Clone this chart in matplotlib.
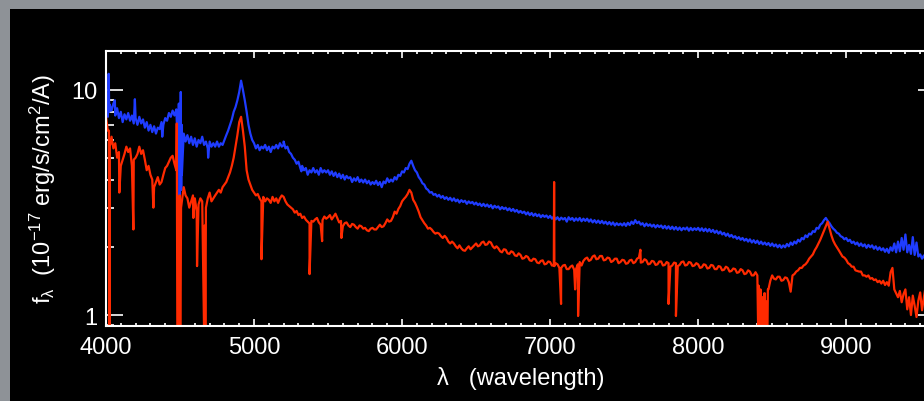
import numpy as np
import matplotlib
matplotlib.use("Agg")
import matplotlib.pyplot as plt
from matplotlib.patches import Rectangle
from matplotlib.ticker import MultipleLocator, LogLocator, FuncFormatter, NullFormatter

plt.rcParams['font.family'] = ['Liberation Sans', 'DejaVu Sans']
plt.rcParams['mathtext.fontset'] = 'custom'
plt.rcParams['mathtext.rm'] = 'Liberation Sans'
plt.rcParams['mathtext.it'] = 'Liberation Sans'
plt.rcParams['mathtext.default'] = 'regular'

# sampling grid of the spectra (Angstrom), 12.5 A steps
wave = np.arange(4000, 9600.1, 12.5)

# blue spectrum, flux in 1e-17 erg/s/cm2/A, one row per 250 A
blue_flux = [
    9.6, 7.6, 8.6, 8.1, 8.7, 7.7, 8.3, 7.5, 8.0, 7.2, 7.8, 7.4, 7.9, 7.3, 7.7, 7.1, 7.5, 7.0, 7.6, 7.1,
    7.4, 6.8, 7.2, 6.6, 7.0, 6.5, 6.9, 6.4, 6.8, 6.7, 7.2, 7.0, 7.5, 7.3, 7.9, 7.6, 8.1, 7.7, 8.2, 5.0,
    3.5, 4.2, 6.4, 5.9, 6.3, 5.8, 6.2, 5.7, 6.1, 5.6, 6.0, 5.8, 6.2, 5.7, 5.9, 5.5, 5.9, 5.6, 5.8, 5.6,
    5.9, 5.6, 5.8, 5.7, 6.0, 6.3, 6.6, 7.0, 7.4, 8.0, 8.4, 9.0, 9.8, 11.0, 10.0, 9.0, 8.0, 7.0, 6.4, 6.0,
    5.8, 5.5, 5.7, 5.4, 5.6, 5.5, 5.7, 5.4, 5.6, 5.3, 5.6, 5.5, 5.7, 5.5, 5.8, 5.6, 5.7, 5.5, 5.6, 5.3,
    5.2, 5.0, 4.9, 4.7, 4.8, 4.5, 4.6, 4.4, 4.5, 4.2, 4.4, 4.3, 4.5, 4.3, 4.4, 4.2, 4.5, 4.3, 4.4, 4.3,
    4.4, 4.2, 4.35, 4.15, 4.3, 4.1, 4.25, 4.05, 4.2, 4.0, 4.15, 4.05, 4.1, 3.9, 4.05, 3.95, 4.1, 3.9, 4.0, 3.88,
    4.0, 3.85, 3.95, 3.8, 3.9, 3.82, 3.95, 3.78, 3.9, 3.7, 3.92, 3.85, 4.05, 3.9, 4.0, 3.92, 4.1, 4.0, 4.2, 4.15,
    4.35, 4.3, 4.5, 4.45, 4.7, 4.85, 4.6, 4.4, 4.3, 4.1, 4.0, 3.85, 3.8, 3.65, 3.6, 3.5, 3.52, 3.42, 3.45, 3.36,
    3.42, 3.32, 3.38, 3.28, 3.34, 3.25, 3.32, 3.22, 3.3, 3.2, 3.26, 3.16, 3.24, 3.18, 3.22, 3.12, 3.2, 3.14, 3.18, 3.1,
    3.16, 3.08, 3.13, 3.05, 3.12, 3.04, 3.1, 3.02, 3.08, 2.98, 3.06, 3.0, 3.04, 2.95, 3.02, 2.96, 3.0, 2.92, 2.98, 2.9,
    2.96, 2.88, 2.93, 2.85, 2.9, 2.84, 2.88, 2.8, 2.86, 2.78, 2.84, 2.76, 2.82, 2.75, 2.8, 2.72, 2.78, 2.73, 2.77, 2.7,
    2.76, 2.68, 2.74, 2.66, 2.72, 2.64, 2.71, 2.66, 2.7, 2.6, 2.72, 2.65, 2.7, 2.62, 2.69, 2.63, 2.7, 2.61, 2.68, 2.62,
    2.68, 2.6, 2.66, 2.58, 2.64, 2.57, 2.63, 2.56, 2.62, 2.55, 2.6, 2.53, 2.59, 2.52, 2.58, 2.5, 2.56, 2.51, 2.55, 2.5,
    2.56, 2.49, 2.57, 2.51, 2.6, 2.54, 2.64, 2.56, 2.6, 2.52, 2.56, 2.48, 2.55, 2.49, 2.53, 2.47, 2.52, 2.45, 2.51, 2.46,
    2.5, 2.43, 2.49, 2.42, 2.48, 2.41, 2.47, 2.4, 2.46, 2.39, 2.45, 2.38, 2.44, 2.4, 2.45, 2.37, 2.44, 2.38, 2.43, 2.39,
    2.44, 2.37, 2.43, 2.36, 2.42, 2.35, 2.41, 2.34, 2.39, 2.32, 2.37, 2.3, 2.35, 2.28, 2.32, 2.25, 2.3, 2.23, 2.27, 2.21,
    2.24, 2.18, 2.22, 2.16, 2.2, 2.14, 2.18, 2.12, 2.17, 2.1, 2.15, 2.09, 2.14, 2.07, 2.12, 2.06, 2.1, 2.05, 2.09, 2.03,
    2.08, 2.02, 2.06, 2.0, 2.05, 1.99, 2.04, 2.0, 2.07, 2.02, 2.1, 2.05, 2.12, 2.08, 2.16, 2.12, 2.2, 2.17, 2.26, 2.22,
    2.3, 2.28, 2.36, 2.34, 2.44, 2.42, 2.52, 2.56, 2.64, 2.7, 2.62, 2.56, 2.48, 2.42, 2.38, 2.32, 2.3, 2.24, 2.22, 2.17,
    2.2, 2.13, 2.16, 2.09, 2.12, 2.06, 2.1, 2.03, 2.08, 2.02, 2.06, 1.99, 2.05, 2.0, 2.04, 1.97, 2.02, 1.95, 2.0, 1.94,
    1.98, 1.91, 1.97, 1.89, 2.0, 1.93, 2.08, 1.9, 2.12, 1.92, 2.2, 1.95, 2.28, 1.9, 2.05, 1.87, 2.22, 1.85, 2.1, 1.82,
    1.86, 1.78, 1.84, 1.75, 1.82, 1.74, 1.8, 1.76, 1.79,
]

# narrow features of the blue spectrum (spikes and lines between grid points)
blue_line_wave = [4018, 4022, 4060, 4195, 4380, 4492, 4495, 4505, 4508, 4512, 4690, 5200, 5320]
blue_line_flux = [11.8, 8.0, 9.0, 9.1, 6.2, 8.7, 3.4, 9.8, 3.6, 7.0, 5.0, 5.9, 4.35]

# red spectrum
red_flux = [
    7.6, 6.6, 5.9, 6.2, 5.5, 5.8, 5.0, 5.3, 4.6, 4.9, 5.2, 5.6, 5.3, 5.5, 4.6, 4.9, 5.0, 5.2, 5.6, 5.2,
    5.4, 4.9, 4.4, 4.6, 4.2, 4.0, 3.7, 3.9, 4.1, 3.8, 3.9, 4.2, 4.5, 4.6, 4.8, 5.0, 5.1, 4.7, 4.4, 0.85,
    0.85, 3.2, 3.7, 3.4, 3.3, 3.0, 3.2, 3.4, 3.3, 2.9, 3.1, 3.3, 3.2, 0.85, 3.0, 3.3, 3.5, 3.2, 3.3, 3.4,
    3.5, 3.6, 3.5, 3.7, 3.8, 3.9, 4.1, 4.3, 4.6, 5.0, 5.6, 6.3, 7.2, 7.6, 6.6, 5.6, 4.4, 4.0, 3.8, 3.6,
    3.5, 3.4, 3.45, 3.3, 3.2, 3.35, 3.2, 3.3, 3.25, 3.15, 3.35, 3.2, 3.3, 3.15, 3.3, 3.4, 3.35, 3.2, 3.1, 3.05,
    3.0, 2.95, 2.85, 2.9, 2.78, 2.82, 2.7, 2.74, 2.65, 2.6, 2.55, 2.62, 2.6, 2.66, 2.7, 2.58, 2.52, 2.64, 2.74, 2.68,
    2.72, 2.78, 2.66, 2.74, 2.82, 2.7, 2.58, 2.62, 2.48, 2.56, 2.58, 2.5, 2.46, 2.54, 2.52, 2.46, 2.42, 2.5, 2.48, 2.42,
    2.44, 2.38, 2.36, 2.42, 2.44, 2.4, 2.4, 2.46, 2.52, 2.46, 2.48, 2.56, 2.66, 2.6, 2.62, 2.72, 2.88, 2.82, 2.96, 3.05,
    3.2, 3.28, 3.35, 3.45, 3.6, 3.5, 3.25, 3.15, 3.02, 2.88, 2.72, 2.64, 2.56, 2.5, 2.42, 2.44, 2.4, 2.34, 2.3, 2.32,
    2.3, 2.24, 2.2, 2.25, 2.2, 2.12, 2.08, 2.12, 2.08, 2.02, 1.98, 2.04, 1.98, 1.94, 1.93, 1.98, 2.02, 1.96, 2.0, 2.04,
    2.08, 2.02, 2.04, 2.1, 2.12, 2.05, 2.06, 2.12, 2.1, 2.02, 1.98, 2.02, 1.98, 1.92, 1.9, 1.96, 1.95, 1.88, 1.87, 1.92,
    1.9, 1.84, 1.83, 1.88, 1.85, 1.78, 1.79, 1.83, 1.81, 1.75, 1.74, 1.78, 1.77, 1.71, 1.7, 1.74, 1.75, 1.68, 1.69, 1.73,
    1.72, 1.66, 1.66, 1.7, 1.68, 1.62, 1.62, 1.66, 1.67, 1.6, 1.6, 1.64, 1.66, 1.59, 1.6, 1.68, 1.72, 1.66, 1.74, 1.78,
    1.8, 1.74, 1.76, 1.82, 1.84, 1.77, 1.78, 1.83, 1.83, 1.75, 1.76, 1.8, 1.79, 1.72, 1.74, 1.78, 1.78, 1.7, 1.72, 1.76,
    1.75, 1.69, 1.7, 1.75, 1.76, 1.7, 1.72, 1.78, 1.8, 1.71, 1.72, 1.77, 1.75, 1.68, 1.69, 1.74, 1.73, 1.67, 1.68, 1.73,
    1.73, 1.66, 1.67, 1.72, 1.7, 1.64, 1.66, 1.71, 1.7, 1.65, 1.67, 1.72, 1.73, 1.66, 1.67, 1.72, 1.71, 1.65, 1.66, 1.7,
    1.68, 1.62, 1.63, 1.68, 1.67, 1.61, 1.62, 1.67, 1.66, 1.6, 1.6, 1.65, 1.64, 1.58, 1.59, 1.64, 1.62, 1.56, 1.57, 1.61,
    1.6, 1.54, 1.55, 1.6, 1.58, 1.52, 1.53, 1.58, 1.56, 1.5, 1.5, 1.55, 1.5, 0.85, 1.2, 0.85, 1.25, 0.85, 1.3, 1.42,
    1.5, 1.45, 1.44, 1.48, 1.48, 1.42, 1.43, 1.47, 1.46, 1.4, 1.27, 1.5, 1.52, 1.56, 1.58, 1.62, 1.62, 1.66, 1.68, 1.72,
    1.78, 1.82, 1.86, 1.94, 2.0, 2.08, 2.16, 2.26, 2.36, 2.48, 2.6, 2.42, 2.26, 2.14, 2.06, 2.0, 1.94, 1.88, 1.82, 1.8,
    1.76, 1.7, 1.68, 1.64, 1.64, 1.58, 1.57, 1.56, 1.56, 1.5, 1.5, 1.48, 1.5, 1.45, 1.46, 1.43, 1.44, 1.4, 1.42, 1.38,
    1.42, 1.36, 1.4, 1.35, 1.55, 1.62, 1.3, 1.25, 1.2, 1.28, 1.14, 1.24, 1.3, 1.06, 1.2, 1.0, 1.22, 1.1, 0.98, 1.16,
    1.26, 1.05, 1.2, 1.35, 1.12, 1.24, 1.08, 1.22, 1.18,
]

red_line_wave = [4020, 4024, 4028, 4090, 4185, 4320, 4478, 4482, 4490, 4494,
                 4497, 4503, 4507, 4590, 4615, 4667, 4671, 5050, 5375, 5460,
                 5590, 7027, 7029, 7074, 7169, 7189, 7610, 7800, 7850, 8406,
                 8409, 8418, 8421, 8431, 8434, 8444, 8447, 8456, 8459, 8468, 8471]
red_line_flux = [6.6, 0.8, 5.7, 3.5, 2.4, 3.0, 7.1, 0.8, 2.8, 0.8,
                 3.4, 0.8, 3.0, 2.7, 1.65, 2.5, 0.8, 1.77, 1.52, 2.13,
                 2.2, 3.9, 1.65, 1.12, 1.3, 0.99, 1.95, 1.12, 0.99, 0.8,
                 1.35, 0.8, 1.3, 0.8, 1.2, 0.8, 1.25, 0.8, 1.15, 0.8, 1.3]


def merge(grid_w, grid_f, line_w, line_f):
    w = np.concatenate([grid_w, line_w])
    f = np.concatenate([grid_f, line_f])
    order = np.argsort(w, kind='stable')
    return w[order], f[order]


bw, bf = merge(wave, blue_flux, blue_line_wave, blue_line_flux)
rw, rf = merge(wave, red_flux, red_line_wave, red_line_flux)

fig = plt.figure(figsize=(9.24, 4.02), dpi=100, facecolor='#8e9297')
# black panel behind the plot
fig.patches.append(Rectangle((10 / 924, 0), 1, 392 / 402, transform=fig.transFigure,
                             facecolor='black', edgecolor='none', zorder=-5))

ax = fig.add_axes([106 / 924, 75 / 402, 829 / 924, 275 / 402])
ax.set_zorder(2)
ax.set_facecolor('black')

ax.plot(bw, bf, color='#1f3cff', lw=1.6)
ax.plot(rw, rf, color='#ff2a00', lw=1.6)

ax.set_yscale('log')
ax.set_xlim(4000, 9600)
ax.set_ylim(0.894, 14.9)

ax.xaxis.set_major_locator(MultipleLocator(1000))
ax.xaxis.set_minor_locator(MultipleLocator(100))
ax.yaxis.set_major_locator(LogLocator(base=10))
ax.yaxis.set_minor_locator(LogLocator(base=10, subs=np.arange(2, 10)))
ax.yaxis.set_major_formatter(FuncFormatter(lambda v, p: f"{v:g}"))
ax.yaxis.set_minor_formatter(NullFormatter())

for s in ax.spines.values():
    s.set_color('white')
    s.set_linewidth(1.5)

ax.tick_params(which='both', direction='in', top=True, right=True,
               colors='white', labelsize=17, width=1.2)
ax.tick_params(axis='x', which='major', length=5, pad=7)
ax.tick_params(axis='x', which='minor', length=2.2)
ax.tick_params(axis='y', which='major', length=12, pad=6)
ax.tick_params(axis='y', which='minor', length=6)

ax.set_xlabel('λ   (wavelength)', color='white', fontsize=17, labelpad=6)
ax.set_ylabel(r'f$_λ$  (10$^{-17}$ erg/s/cm$^2$/A)', color='white', fontsize=17, labelpad=10)

fig.savefig('out.png', dpi=100, facecolor=fig.get_facecolor())
